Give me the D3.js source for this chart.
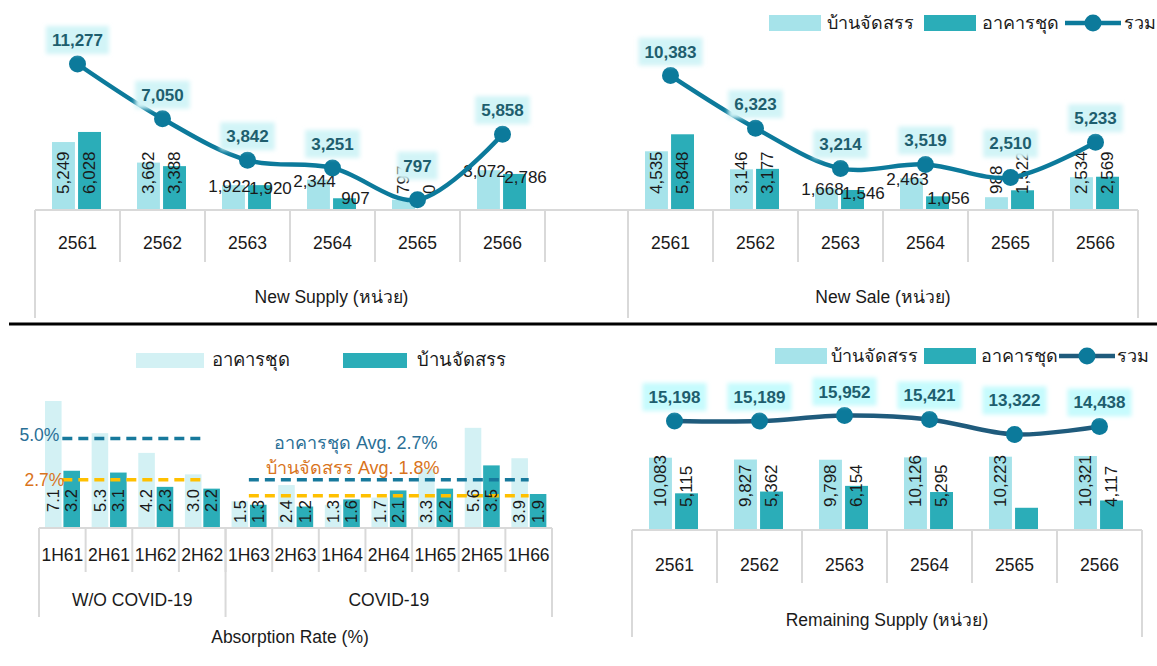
<!DOCTYPE html>
<html>
<head>
<meta charset="utf-8">
<script src="https://cdn.jsdelivr.net/npm/d3@7/dist/d3.min.js"></script>
<style>
  body { margin: 0; background: #ffffff; }
  svg text { font-family: "Liberation Sans", Arial, "DejaVu Sans", sans-serif; fill: #1a1a1a; }
</style>
</head>
<body>
<svg id="chart" width="1157" height="666"></svg>
<script>
// ---- data ----
var years = ["2561", "2562", "2563", "2564", "2565", "2566"];

var supplyHouse = [5249, 3662, 1922, 2344, 797, 3072];
var supplyCondo = [6028, 3388, 1920, 907, 0, 2786];
var supplyTotal = [11277, 7050, 3842, 3251, 797, 5858];

var saleHouse = [4535, 3146, 1668, 2463, 988, 2534];
var saleCondo = [5848, 3177, 1546, 1056, 1522, 2569];
var saleTotal = [10383, 6323, 3214, 3519, 2510, 5233];

var remainHouse = [10083, 9827, 9798, 10126, 10223, 10321];
var remainCondo = [5115, 5362, 6154, 5295, 3099, 4117];
var remainTotal = [15198, 15189, 15952, 15421, 13322, 14438];

var halves = ["1H61", "2H61", "1H62", "2H62", "1H63", "2H63", "1H64", "2H64", "1H65", "2H65", "1H66"];
var periodNames = ["W/O COVID-19", "COVID-19"];
var periodSizes = [4, 7];
var absorbCondo = [7.1, 5.3, 4.2, 3.0, 1.5, 2.4, 1.3, 1.7, 3.3, 5.6, 3.9];
var absorbHouse = [3.2, 3.1, 2.3, 2.2, 1.3, 1.2, 1.6, 2.1, 2.2, 3.5, 1.9];
var avgCondo = [5.0, 2.7];
var avgHouse = [2.7, 1.8];

var houseName = "บ้านจัดสรร";
var condoName = "อาคารชุด";
var totalName = "รวม";

// ---- label styling (which bar labels are flat instead of rotated) ----
var supplyFlat = [[0, 0, 1, 1, 0, 1], [0, 0, 1, 1, 0, 1]];
var saleFlat = [[0, 0, 1, 1, 0, 0], [0, 0, 1, 1, 0, 0]];
var remainFlat = [[0, 0, 0, 0, 0, 0], [0, 0, 0, 0, 0, 0]];
var remainHidden = [[0, 0, 0, 0, 0, 0], [0, 0, 0, 0, 1, 0]];
var absorbLift = [16, 16, 16, 16, 5, 5, 5, 5, 5, 16, 5];

var lightTeal = "#a6e3ea";
var darkTeal = "#2badb8";
var paleTeal = "#d3f1f4";
var lineBlue = "#0c7a9b";
var gridGray = "#d9d9d9";
var axisFont = 17.5;
var fmt = d3.format(",");

var svg = d3.select("#chart");

// soft glow behind the total labels
var defs = svg.append("defs");
defs.append("filter").attr("id", "glow")
    .attr("x", "-20%").attr("y", "-40%").attr("width", "140%").attr("height", "180%")
    .append("feGaussianBlur").attr("stdDeviation", 2);

function gridLine(g, x1, y1, x2, y2) {
    g.append("line")
        .attr("x1", x1).attr("y1", y1).attr("x2", x2).attr("y2", y2)
        .attr("stroke", gridGray).attr("stroke-width", 2);
}

// bars + smoothed total line panel
function comboPanel(cfg) {
    var g = svg.append("g");
    var x = d3.scaleBand().domain(years).range(cfg.xRange);
    var x1 = d3.scaleBand().domain([0, 1]).range([17, 66]).paddingInner(0.12);
    var y = cfg.y;
    var base = y(0);
    var series = [cfg.house, cfg.condo];

    // bars
    series.forEach(function (vals, s) {
        g.selectAll(null)
            .data(vals)
            .enter()
            .append("rect")
            .attr("x", function (d, i) { return x(years[i]) + x1(s); })
            .attr("y", function (d) { return y(d); })
            .attr("width", x1.bandwidth())
            .attr("height", function (d) { return base - y(d); })
            .attr("fill", s ? darkTeal : lightTeal);
    });

    // bar value labels
    series.forEach(function (vals, s) {
        vals.forEach(function (d, i) {
            if (cfg.hidden && cfg.hidden[s][i]) return;
            var cx = x(years[i]) + x1(s) + x1.bandwidth() / 2;
            var t = g.append("text").attr("font-size", 17).text(fmt(d));
            if (cfg.flat[s][i]) {
                // flat labels sit on the bar top, nudged apart
                t.attr("x", cx + (s ? 11 : -4))
                    .attr("y", Math.min(y(d) + (s ? 3 : 1), base - 12))
                    .attr("text-anchor", "middle")
                    .attr("dy", "0.35em");
            } else {
                t.attr("transform", "translate(" + cx + "," + (base - cfg.lift) + ") rotate(-90)")
                    .attr("dy", "0.35em");
            }
        });
    });

    // total line
    var pts = cfg.total.map(function (d, i) {
        return [x(years[i]) + x.bandwidth() / 2, y(d)];
    });
    g.append("path")
        .attr("d", d3.line().curve(d3.curveCatmullRom)(pts))
        .attr("fill", "none")
        .attr("stroke", cfg.lineColor)
        .attr("stroke-width", 4.5);
    g.selectAll(null)
        .data(pts)
        .enter()
        .append("circle")
        .attr("cx", function (d) { return d[0]; })
        .attr("cy", function (d) { return d[1]; })
        .attr("r", 8.5)
        .attr("fill", lineBlue);

    // total labels with glow box
    pts.forEach(function (p, i) {
        var lower = true;
        [i - 1, i + 1].forEach(function (j) {
            if (j >= 0 && j < pts.length && p[1] - pts[j][1] < 6) lower = false;
        });
        var ly = p[1] - (lower ? 34 : 24);
        var bg = g.append("rect");
        var t = g.append("text")
            .attr("x", p[0]).attr("y", ly)
            .attr("dy", "0.35em")
            .attr("text-anchor", "middle")
            .attr("font-size", 17)
            .attr("font-weight", "bold")
            .style("fill", "#1e5e6e")
            .text(fmt(cfg.total[i]));
        var w = t.node().getComputedTextLength();
        bg.attr("x", p[0] - w / 2 - 6).attr("y", ly - 14)
            .attr("width", w + 12).attr("height", 28)
            .attr("fill", cfg.glow)
            .attr("filter", "url(#glow)");
    });

    // category axis (box style)
    var axis = g.append("g")
        .attr("transform", "translate(0," + base + ")")
        .call(d3.axisBottom(x).tickSize(0));
    axis.select(".domain").remove();
    axis.selectAll("text")
        .attr("y", cfg.labelGap)
        .attr("dy", "0.35em")
        .attr("font-size", axisFont)
        .style("font-family", null);

    gridLine(g, cfg.lineRange[0], base, cfg.lineRange[1], base);
    var edges = years.map(function (d) { return x(d); }).concat(cfg.xRange[1]);
    edges.forEach(function (e) {
        gridLine(g, e, base, e, base + cfg.cellH);
    });
    cfg.boxEdges.forEach(function (e) {
        gridLine(g, e, base, e, base + cfg.boxH);
    });

    g.append("text")
        .attr("x", (cfg.boxEdges[0] + cfg.boxEdges[cfg.boxEdges.length - 1]) / 2)
        .attr("y", base + cfg.titleGap)
        .attr("dy", "0.35em")
        .attr("text-anchor", "middle")
        .attr("font-size", axisFont)
        .text(cfg.title);
}

function legend(y, xs, lineColor) {
    var g = svg.append("g");
    g.append("rect").attr("x", xs[0]).attr("y", y - 8).attr("width", 52).attr("height", 16).attr("fill", lightTeal);
    g.append("text").attr("x", xs[1]).attr("y", y).attr("dy", "0.35em").attr("font-size", 18).text(houseName);
    g.append("rect").attr("x", xs[2]).attr("y", y - 8).attr("width", 52).attr("height", 16).attr("fill", darkTeal);
    g.append("text").attr("x", xs[3]).attr("y", y).attr("dy", "0.35em").attr("font-size", 18).text(condoName);
    g.append("line").attr("x1", xs[4]).attr("x2", xs[4] + 56).attr("y1", y).attr("y2", y)
        .attr("stroke", lineColor).attr("stroke-width", 4.5);
    g.append("circle").attr("cx", xs[4] + 28).attr("cy", y).attr("r", 8.5).attr("fill", lineBlue);
    g.append("text").attr("x", xs[5]).attr("y", y).attr("dy", "0.35em").attr("font-size", 18).text(totalName);
}

// top row shares one value scale
var yTop = d3.scaleLinear().domain([0, 11277]).range([210, 64]);

comboPanel({
    house: supplyHouse, condo: supplyCondo, total: supplyTotal,
    flat: supplyFlat, lift: 16, y: yTop,
    xRange: [35, 545], lineRange: [35, 1138], boxEdges: [35, 628],
    cellH: 52, boxH: 108, labelGap: 33, titleGap: 87,
    lineColor: lineBlue, glow: "#d2f4f7",
    title: "New Supply (หน่วย)"
});

comboPanel({
    house: saleHouse, condo: saleCondo, total: saleTotal,
    flat: saleFlat, lift: 16, y: yTop,
    xRange: [628, 1138], lineRange: [628, 1138], boxEdges: [628, 1138],
    cellH: 52, boxH: 108, labelGap: 33, titleGap: 87,
    lineColor: lineBlue, glow: "#d2f4f7",
    title: "New Sale (หน่วย)"
});
legend(23, [769, 827, 924, 982, 1065, 1124], lineBlue);

// separator between the two rows
svg.append("line")
    .attr("x1", 9).attr("x2", 1157).attr("y1", 324).attr("y2", 324)
    .attr("stroke", "#000").attr("stroke-width", 3);

comboPanel({
    house: remainHouse, condo: remainCondo, total: remainTotal,
    flat: remainFlat, hidden: remainHidden, lift: 23,
    y: d3.scaleLinear().domain([0, 15952]).range([530, 415.6]),
    xRange: [632, 1142], lineRange: [632, 1142], boxEdges: [632, 1142],
    cellH: 53, boxH: 107, labelGap: 35, titleGap: 90,
    lineColor: "#1f5b7c", glow: "#c6fbfd",
    title: "Remaining Supply (หน่วย)"
});
legend(356, [775, 831, 924, 981, 1059, 1117], "#1f5b7c");

// ---- absorption rate panel ----
(function () {
    var g = svg.append("g");
    var x = d3.scaleBand().domain(halves).range([39, 552]);
    var x1 = d3.scaleBand().domain([0, 1]).range([6, 41]).paddingInner(0.1);
    var y = d3.scaleLinear().domain([0, 7.1]).range([528, 401]);
    var base = y(0);
    var series = [absorbCondo, absorbHouse];

    series.forEach(function (vals, s) {
        g.selectAll(null)
            .data(vals)
            .enter()
            .append("rect")
            .attr("x", function (d, i) { return x(halves[i]) + x1(s); })
            .attr("y", function (d) { return y(d); })
            .attr("width", x1.bandwidth())
            .attr("height", function (d) { return base - y(d); })
            .attr("fill", s ? darkTeal : paleTeal);
    });

    // average lines per period
    var start = 0;
    var avgColors = ["#17799c", "#ffc000"];
    periodSizes.forEach(function (n, p) {
        var xa = x(halves[start]) + x.bandwidth() / 2;
        var xb = x(halves[start + n - 1]) + x.bandwidth() / 2;
        [avgCondo[p], avgHouse[p]].forEach(function (v, k) {
            g.append("line")
                .attr("x1", xa).attr("x2", xb)
                .attr("y1", y(v)).attr("y2", y(v))
                .attr("stroke", avgColors[k])
                .attr("stroke-width", 3.5)
                .attr("stroke-dasharray", "10,6");
        });
        if (p === 0) {
            g.append("text").attr("x", xa - 3).attr("y", y(avgCondo[p]) - 4)
                .attr("dy", "0.35em").attr("text-anchor", "end").attr("font-size", 17.5)
                .style("fill", "#2a6f96").text(avgCondo[p].toFixed(1) + "%");
            g.append("text").attr("x", xa + 2).attr("y", y(avgHouse[p]))
                .attr("dy", "0.35em").attr("text-anchor", "end").attr("font-size", 17.5)
                .style("fill", "#d9741c").text(avgHouse[p].toFixed(1) + "%");
        } else {
            var mx = (xa + xb) / 2 - 33;
            g.append("text").attr("x", mx).attr("y", y(avgCondo[p]) - 37)
                .attr("dy", "0.35em").attr("text-anchor", "middle").attr("font-size", 18)
                .style("fill", "#2a6f96").text(condoName + " Avg. " + avgCondo[p].toFixed(1) + "%");
            g.append("text").attr("x", mx - 3).attr("y", y(avgHouse[p]) - 28)
                .attr("dy", "0.35em").attr("text-anchor", "middle").attr("font-size", 18)
                .style("fill", "#d9741c").text(houseName + "  Avg. " + avgHouse[p].toFixed(1) + "%");
        }
        start += n;
    });

    // rotated bar labels
    series.forEach(function (vals, s) {
        vals.forEach(function (d, i) {
            var cx = x(halves[i]) + x1(s) + x1.bandwidth() / 2;
            g.append("text")
                .attr("transform", "translate(" + cx + "," + (base - absorbLift[i]) + ") rotate(-90)")
                .attr("dy", "0.35em")
                .attr("font-size", 16.5)
                .text(d.toFixed(1));
        });
    });

    // category axis
    var axis = g.append("g")
        .attr("transform", "translate(0," + base + ")")
        .call(d3.axisBottom(x).tickSize(0));
    axis.select(".domain").remove();
    axis.selectAll("text")
        .attr("y", 27).attr("dy", "0.35em")
        .attr("font-size", axisFont)
        .style("font-family", null);

    gridLine(g, x.range()[0], base, x.range()[1], base);
    halves.forEach(function (h) { gridLine(g, x(h), base, x(h), base + 44); });
    var s0 = 0;
    var edges = [x(halves[0])];
    periodSizes.forEach(function (n, p) {
        var a = x(halves[s0]);
        var b = s0 + n < halves.length ? x(halves[s0 + n]) : x.range()[1];
        edges.push(b);
        g.append("text")
            .attr("x", (a + b) / 2).attr("y", base + 72)
            .attr("dy", "0.35em").attr("text-anchor", "middle").attr("font-size", axisFont)
            .text(periodNames[p]);
        s0 += n;
    });
    edges.forEach(function (e) { gridLine(g, e, base, e, base + 89); });

    g.append("text")
        .attr("x", 290).attr("y", base + 109)
        .attr("dy", "0.35em").attr("text-anchor", "middle").attr("font-size", axisFont)
        .text("Absorption Rate (%)");

    // legend
    g.append("rect").attr("x", 136).attr("y", 353).attr("width", 68).attr("height", 15).attr("fill", paleTeal);
    g.append("text").attr("x", 212).attr("y", 360).attr("dy", "0.35em").attr("font-size", 18.5).text(condoName);
    g.append("rect").attr("x", 343).attr("y", 353).attr("width", 64).attr("height", 15).attr("fill", darkTeal);
    g.append("text").attr("x", 417).attr("y", 360).attr("dy", "0.35em").attr("font-size", 18.5).text(houseName);
})();
</script>
</body>
</html>
